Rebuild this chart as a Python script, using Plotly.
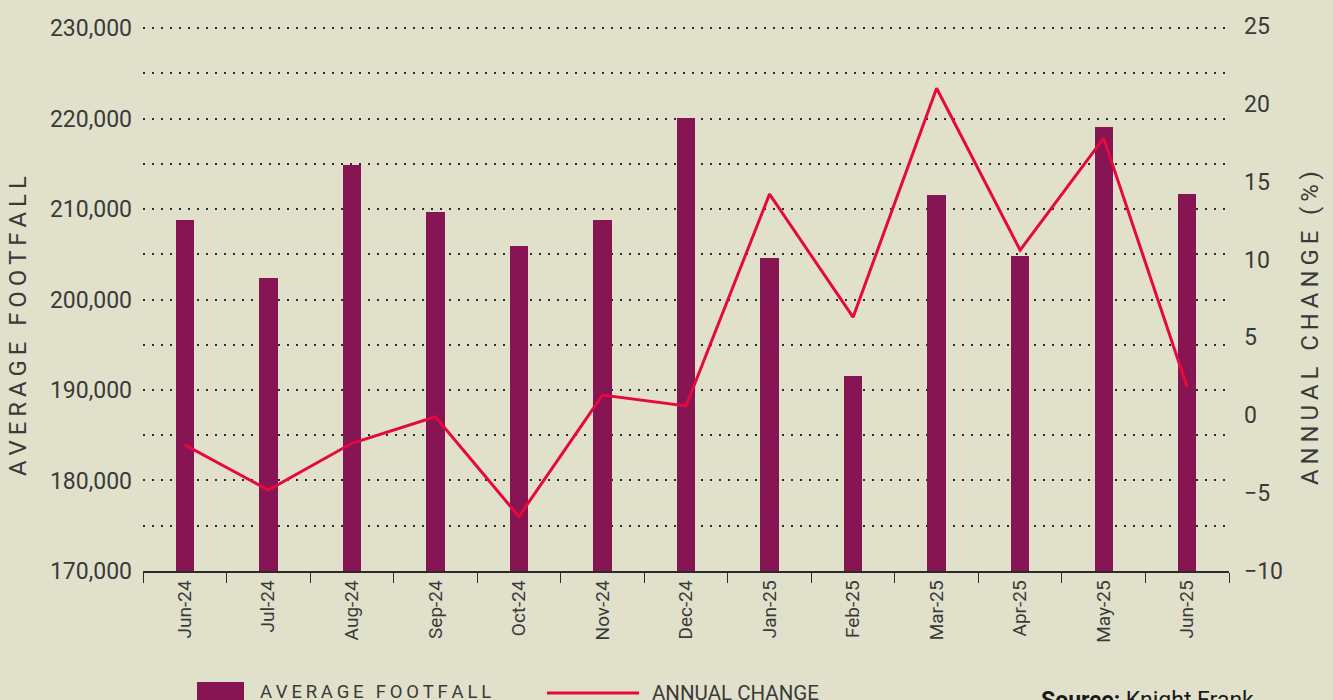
import plotly.graph_objects as go

# data
months = ["Jun-24", "Jul-24", "Aug-24", "Sep-24", "Oct-24", "Nov-24", "Dec-24",
          "Jan-25", "Feb-25", "Mar-25", "Apr-25", "May-25", "Jun-25"]
avg_footfall = [208800, 202400, 214900, 209700, 205900, 208800, 220100,
                204600, 191500, 211600, 204800, 219100, 211700]
annual_change = [-1.9, -4.8, -1.8, -0.1, -6.5, 1.3, 0.6,
                 14.2, 6.3, 21.0, 10.6, 17.8, 1.8]

BG = '#e1e1cb'
BAR = '#871453'
LINE = '#e5093d'
TEXT = '#3a3a3a'
FONT = "Roboto, 'Liberation Sans', Arial, sans-serif"

W, H = 1333, 700
L, R, T, B = 143, 104, 26, 129


def px_x(px):
    # pixel -> paper x
    return (px - L) / (W - L - R)


def px_y(py):
    # pixel -> paper y
    return (H - B - py) / (H - T - B)


def spaced(s, sep='\u2009'):
    # fake letter spacing
    return sep.join(s)


fig = go.Figure()

fig.add_trace(go.Bar(
    x=months,
    y=avg_footfall,
    name='Average footfall',
    marker=dict(color=BAR, line=dict(width=0)),
    width=0.22,
    showlegend=False
))

fig.add_trace(go.Scatter(
    x=months,
    y=annual_change,
    yaxis='y2',
    mode='lines',
    name='Annual change',
    line=dict(color=LINE, width=3),
    showlegend=False
))

grid = dict(gridcolor='#2b2b2b', griddash='2px,7px', gridwidth=1.6)

fig.update_layout(
    width=W, height=H,
    margin=dict(l=L, r=R, t=T, b=B),
    paper_bgcolor=BG,
    plot_bgcolor=BG,
    font=dict(family=FONT, color=TEXT),
    bargap=0,
    xaxis=dict(
        type='category',
        range=[-0.5, 12.5],
        showline=True, linecolor='#2b2b2b', linewidth=1.5,
        ticks='outside', tickson='boundaries', ticklen=10,
        tickcolor='#2b2b2b', tickwidth=1.2,
        tickangle=-90,
        tickfont=dict(size=19, color=TEXT),
        showgrid=False,
    ),
    yaxis=dict(
        # top a bit past 230,000 so its grid line is not dropped
        range=[169990, 230250],
        tickvals=[170000, 180000, 190000, 200000, 210000, 220000, 230000],
        tickformat=',',
        tickfont=dict(size=23, color=TEXT),
        ticklabelstandoff=10,
        showgrid=True,
        zeroline=False,
        minor=dict(tickvals=[175000, 185000, 195000, 205000, 215000, 225000],
                   showgrid=True, **grid),
        **grid
    ),
    yaxis2=dict(
        overlaying='y',
        side='right',
        range=[-10, 25],
        dtick=5,
        tickfont=dict(size=23, color=TEXT),
        ticklabelstandoff=14,
        showgrid=False,
        zeroline=False,
    ),
)

# axis titles
fig.add_annotation(
    x=px_x(18), y=px_y(326), xref='paper', yref='paper',
    xanchor='center', yanchor='middle',
    text=spaced('AVERAGE FOOTFALL'), textangle=-90, showarrow=False,
    font=dict(size=24, color=TEXT)
)
fig.add_annotation(
    x=px_x(1310), y=px_y(328), xref='paper', yref='paper',
    xanchor='center', yanchor='middle',
    text=spaced('ANNUAL CHANGE (%)'), textangle=-90, showarrow=False,
    font=dict(size=24, color=TEXT)
)

# legend drawn by hand below the axis
fig.add_shape(
    type='rect', xref='paper', yref='paper',
    x0=px_x(197), x1=px_x(244), y0=px_y(682), y1=px_y(715),
    fillcolor=BAR, line=dict(width=0)
)
fig.add_annotation(
    x=px_x(258), y=px_y(692), xref='paper', yref='paper',
    xanchor='left', yanchor='middle',
    text=spaced('AVERAGE FOOTFALL'), showarrow=False,
    font=dict(size=18.5, color=TEXT)
)
fig.add_shape(
    type='line', xref='paper', yref='paper',
    x0=px_x(547), x1=px_x(639), y0=px_y(693), y1=px_y(693),
    line=dict(color=LINE, width=3)
)
fig.add_annotation(
    x=px_x(650), y=px_y(693), xref='paper', yref='paper',
    xanchor='left', yanchor='middle',
    text='ANNUAL CHANGE', showarrow=False,
    font=dict(size=20.5, color=TEXT)
)
fig.add_annotation(
    x=px_x(1039), y=px_y(700), xref='paper', yref='paper',
    xanchor='left', yanchor='middle',
    text='<b>Source:</b> Knight Frank', showarrow=False,
    font=dict(size=23, color='#1a1a1a')
)

# drop the page's default body margin so the chart sits at the window corner
fig.write_html("out.html", config={'displayModeBar': False},
               post_script="document.body.style.margin = '0';")
